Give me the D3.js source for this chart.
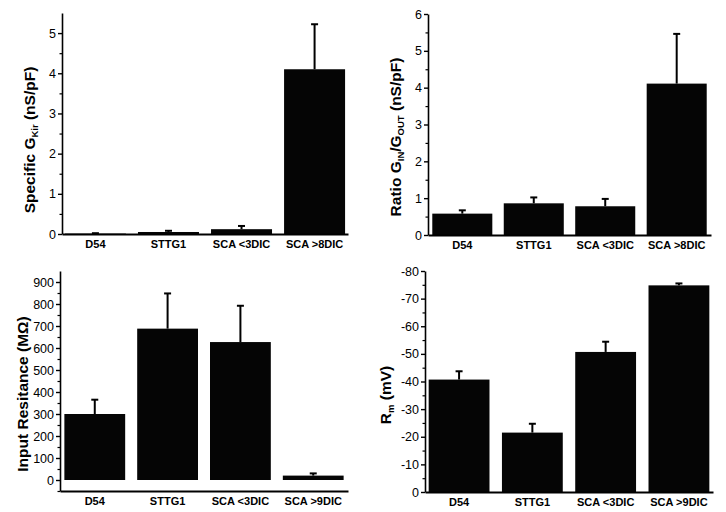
<!DOCTYPE html>
<html>
<head>
<meta charset="utf-8">
<script src="https://cdn.jsdelivr.net/npm/d3@7"></script>
<style>
  body { margin: 0; background: #fff; }
  svg { display: block; font-family: "Liberation Sans", Arial, Helvetica, sans-serif; }
</style>
</head>
<body>
<svg id="chart" width="726" height="512"></svg>
<script>
// ---------- data ----------
const catsTop = ["D54", "STTG1", "SCA <3DIC", "SCA >8DIC"];
const catsBottom = ["D54", "STTG1", "SCA <3DIC", "SCA >9DIC"];

const gkirMean = [0.01, 0.05, 0.12, 4.1];
const gkirErr  = [0.01, 0.03, 0.08, 1.12];

const ratioMean = [0.58, 0.86, 0.78, 4.11];
const ratioErr  = [0.09, 0.16, 0.20, 1.35];

const resMean = [300, 688, 627, 20];
const resErr  = [65, 160, 165, 10];

const rmMean = [-40.7, -21.5, -50.7, -74.8];
const rmErr  = [-3.0, -3.2, -3.7, -0.7];

const ticksGkir  = [0, 1, 2, 3, 4, 5];
const ticksRatio = [0, 1, 2, 3, 4, 5, 6];
const ticksRes   = [0, 100, 200, 300, 400, 500, 600, 700, 800, 900];
const ticksRm    = [0, -10, -20, -30, -40, -50, -60, -70, -80];

// ---------- drawing ----------
const svg = d3.select("#chart");

function panel(cfg) {
  const g = svg.append("g");
  const x = d3.scaleBand().domain(cfg.cats).range(cfg.xr)
    .paddingInner(cfg.pi).paddingOuter(cfg.po);
  const y = d3.scaleLinear().domain(cfg.yd).range(cfg.yr);
  const data = cfg.cats.map((c, i) => ({ c, m: cfg.mean[i], e: cfg.err[i] }));

  // bars
  g.selectAll("rect.bar").data(data).enter().append("rect")
    .attr("x", d => x(d.c))
    .attr("width", x.bandwidth())
    .attr("y", d => Math.min(y(d.m), y(0)))
    .attr("height", d => Math.abs(y(0) - y(d.m)))
    .attr("fill", "#050505");

  // error bars (upper only)
  g.selectAll("line.err").data(data).enter().append("line")
    .attr("x1", d => x(d.c) + x.bandwidth() / 2)
    .attr("x2", d => x(d.c) + x.bandwidth() / 2)
    .attr("y1", d => y(d.m))
    .attr("y2", d => y(d.m + d.e))
    .attr("stroke", "#000").attr("stroke-width", 2);
  g.selectAll("line.cap").data(data).enter().append("line")
    .attr("x1", d => x(d.c) + x.bandwidth() / 2 - 3.5)
    .attr("x2", d => x(d.c) + x.bandwidth() / 2 + 3.5)
    .attr("y1", d => y(d.m + d.e))
    .attr("y2", d => y(d.m + d.e))
    .attr("stroke", "#000").attr("stroke-width", 2);

  // minor ticks
  const minor = [];
  for (let i = 0; i < cfg.ticks.length - 1; i++) minor.push((cfg.ticks[i] + cfg.ticks[i + 1]) / 2);
  if (cfg.extraMinor) minor.push(...cfg.extraMinor);
  const yMinor = g.append("g").attr("transform", `translate(${cfg.xr[0]},0)`)
    .call(d3.axisLeft(y).tickValues(minor).tickSize(2.5).tickSizeOuter(0).tickFormat(""));
  yMinor.select(".domain").remove();
  yMinor.selectAll("line").attr("stroke-width", 1.2);

  // y axis
  const yAx = g.append("g").attr("transform", `translate(${cfg.xr[0]},0)`)
    .call(d3.axisLeft(y).tickValues(cfg.ticks).tickSize(4).tickSizeOuter(0)
      .tickPadding(2).tickFormat(d => String(d)));
  yAx.select(".domain").attr("stroke-width", 1.6);
  yAx.selectAll("line").attr("stroke-width", 1.4);
  yAx.selectAll("text").attr("font-size", 12.5).attr("fill", "#000")
    .attr("font-family", "'Liberation Sans', Arial, sans-serif");

  // x axis
  const x0 = cfg.xAxisY;
  const xAx = g.append("g").attr("transform", `translate(0,${x0})`)
    .call(d3.axisBottom(x).tickSize(0).tickSizeOuter(0).tickPadding(6));
  xAx.select(".domain").attr("stroke-width", 2.2);
  xAx.selectAll("text").attr("font-size", 11).attr("font-weight", "bold").attr("fill", "#000")
    .attr("font-family", "'Liberation Sans', Arial, sans-serif");

  // y title
  const t = g.append("text")
    .attr("transform", `translate(${cfg.tx},${cfg.ty}) rotate(-90)`)
    .attr("text-anchor", "middle")
    .attr("dy", "0.36em")
    .attr("font-size", 15.5).attr("font-weight", "bold").attr("fill", "#000");
  cfg.title.forEach(p => {
    const s = t.append("tspan").text(p.t);
    if (p.sub) s.attr("font-size", 9.5).attr("baseline-shift", "-30%");
  });
}

panel({
  cats: catsTop, mean: gkirMean, err: gkirErr, ticks: ticksGkir,
  xr: [62, 348], pi: 0.165, po: 0.04,
  yd: [0, 5.5], yr: [234, 13], xAxisY: 234,
  tx: 29, ty: 140,
  title: [{ t: "Specific G" }, { t: "Kir", sub: true }, { t: " (nS/pF)" }]
});

panel({
  cats: catsTop, mean: ratioMean, err: ratioErr, ticks: ticksRatio,
  xr: [428, 711], pi: 0.16, po: 0.06,
  yd: [0, 6], yr: [235, 14], xAxisY: 235,
  tx: 395, ty: 137,
  title: [{ t: "Ratio G" }, { t: "IN", sub: true }, { t: "/G" }, { t: "OUT", sub: true }, { t: " (nS/pF)" }]
});

panel({
  cats: catsBottom, mean: resMean, err: resErr, ticks: ticksRes,
  extraMinor: [-50],
  xr: [60, 348], pi: 0.165, po: 0.06,
  yd: [-50, 950], yr: [491, 271], xAxisY: 491,
  tx: 22, ty: 394,
  title: [{ t: "Input Resitance (MΩ)" }]
});

panel({
  cats: catsBottom, mean: rmMean, err: rmErr, ticks: ticksRm,
  xr: [425, 713], pi: 0.17, po: 0.05,
  yd: [0, -80], yr: [492, 271], xAxisY: 492,
  tx: 385, ty: 395,
  title: [{ t: "R" }, { t: "m", sub: true }, { t: " (mV)" }]
});
</script>
</body>
</html>
